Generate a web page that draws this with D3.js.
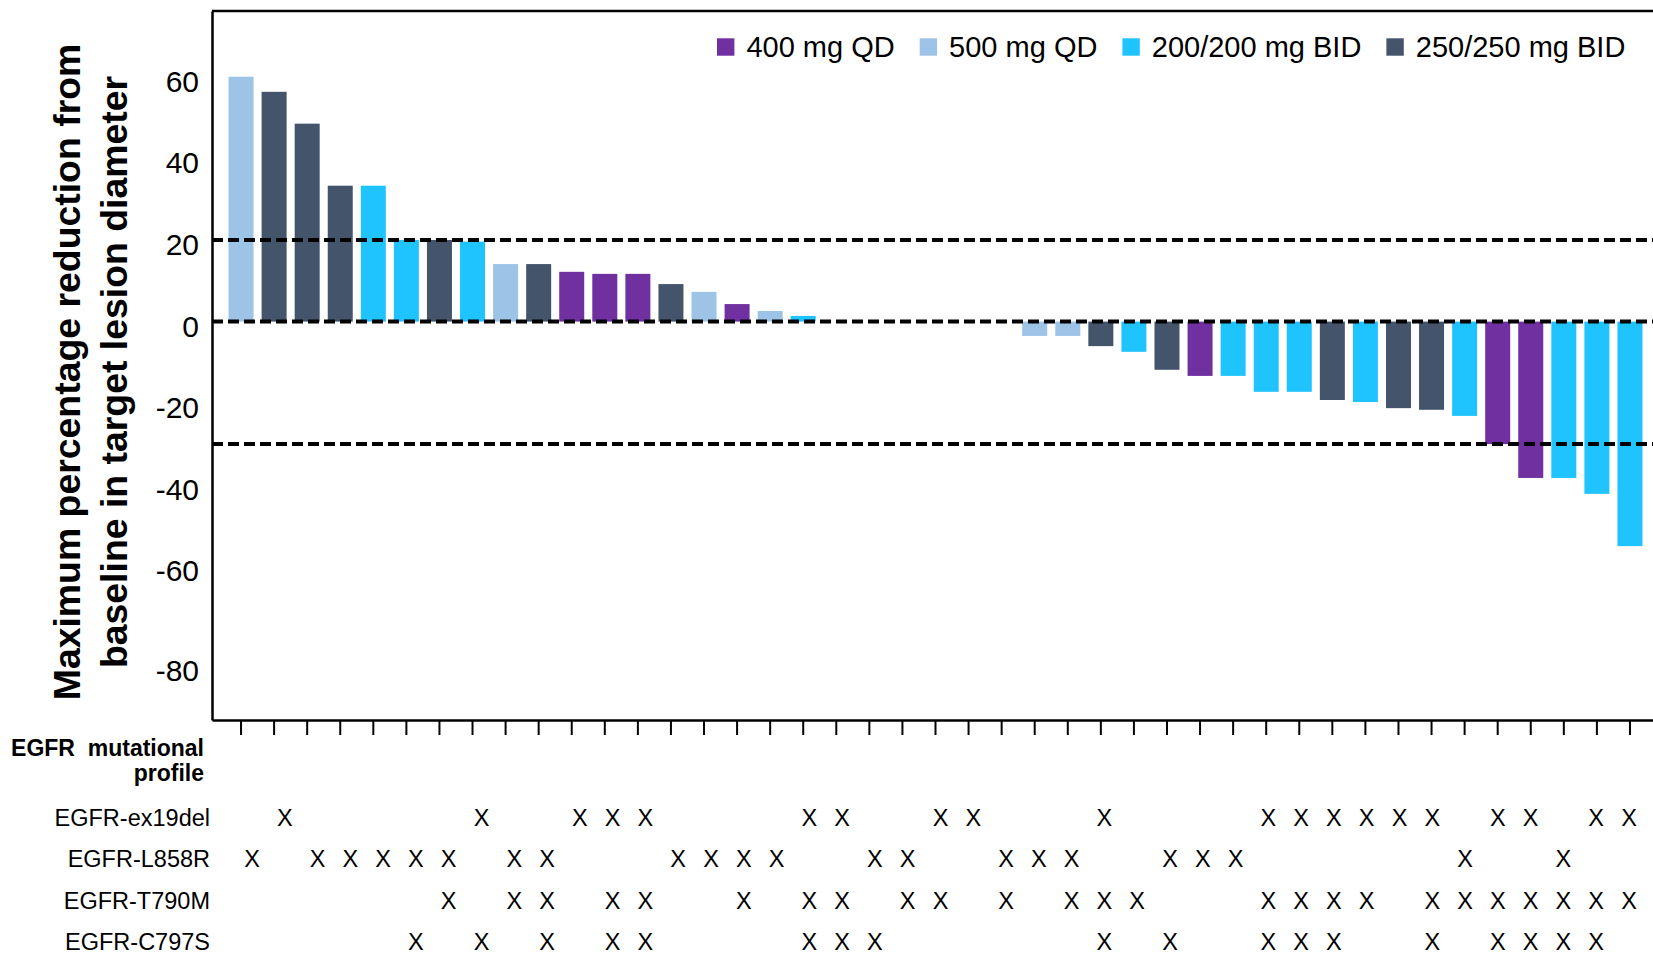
<!DOCTYPE html>
<html lang="en">
<head>
    <meta charset="UTF-8">
    <title>Waterfall</title>
    <style>
        body { margin: 0; background: #fff; }
        svg { display: block; font-family: "Liberation Sans", Arial, sans-serif; }
    </style>
</head>
<body>
    <script src="https://cdn.jsdelivr.net/npm/d3@7/dist/d3.min.js"></script>
    <script>

        // patient slots, left to right
        var patients = d3.range(1, 44);

        var values = [60, 56.3, 48.5, 33.3, 33.3, 20, 20, 19.6, 14.1, 14.1,
            12.2, 11.7, 11.7, 9.2, 7.3, 4.3, 2.6, 1.4, 0, 0,
            0, 0, 0, 0, -3.5, -3.5, -6.0, -7.4, -11.8, -13.3,
            -13.3, -17.2, -17.2, -19.2, -19.7, -21.2, -21.6, -23.1, -30, -38.3,
            -38.3, -42.2, -55.0];

        var doses = ["500 mg QD", "250/250 mg BID", "250/250 mg BID", "250/250 mg BID", "200/200 mg BID",
            "200/200 mg BID", "250/250 mg BID", "200/200 mg BID", "500 mg QD", "250/250 mg BID",
            "400 mg QD", "400 mg QD", "400 mg QD", "250/250 mg BID", "500 mg QD",
            "400 mg QD", "500 mg QD", "200/200 mg BID", null, null,
            null, null, null, null, "500 mg QD",
            "500 mg QD", "250/250 mg BID", "200/200 mg BID", "250/250 mg BID", "400 mg QD",
            "200/200 mg BID", "200/200 mg BID", "200/200 mg BID", "250/250 mg BID", "200/200 mg BID",
            "250/250 mg BID", "250/250 mg BID", "200/200 mg BID", "400 mg QD", "400 mg QD",
            "200/200 mg BID", "200/200 mg BID", "200/200 mg BID"];

        var doseNames = ["400 mg QD", "500 mg QD", "200/200 mg BID", "250/250 mg BID"];
        var doseColors = ["#7030a0", "#9dc3e6", "#1fc4ff", "#44546a"];

        var yTicks = [60, 40, 20, 0, -20, -40, -60, -80];
        var refLines = [20, 0, -30];

        var mutNames = ["EGFR-ex19del", "EGFR-L858R", "EGFR-T790M", "EGFR-C797S"];
        var ex19del = [2, 8, 11, 12, 13, 18, 19, 22, 23, 27, 32, 33, 34, 35, 36, 37, 39, 40, 42, 43];
        var l858r = [1, 3, 4, 5, 6, 7, 9, 10, 14, 15, 16, 17, 20, 21, 24, 25, 26, 29, 30, 31, 38, 41];
        var t790m = [7, 9, 10, 12, 13, 16, 18, 19, 21, 22, 24, 26, 27, 28, 32, 33, 34, 35, 37, 38, 39, 40, 41, 42, 43];
        var c797s = [6, 8, 10, 12, 13, 18, 19, 20, 27, 29, 32, 33, 34, 37, 39, 40, 41, 42];
        var mutPatients = [ex19del, l858r, t790m, c797s];

        var titleLines = ["Maximum percentage reduction from", "baseline in target lesion diameter"];

        var width = 1653,
            height = 954;

        var plotLeft = 212, plotRight = 1659, plotTop = 11, plotBottom = 720;

        var data = patients.map(function(p, i) {
            return { id: p, value: values[i], dose: doses[i] };
        });

        var x = d3.scaleBand()
            .domain(patients)
            .range([plotLeft, plotRight])
            .paddingInner(0.244)
            .paddingOuter(0.5);

        var y = d3.scaleLinear()
            .domain([-97.6, 76.1])
            .range([plotBottom, plotTop]);

        // the X marks sit on a slightly tighter grid than the bars
        var xm = d3.scalePoint()
            .domain(patients)
            .range([252, 1629]);

        var yRow = d3.scalePoint()
            .domain(mutNames)
            .range([826, 950]);

        var color = d3.scaleOrdinal()
            .domain(doseNames)
            .range(doseColors);

        var svg = d3.select("body").append("svg")
            .attr("width", width)
            .attr("height", height);

        // bars
        svg.append("g")
            .selectAll("rect")
            .data(data.filter(function(d) { return d.dose; }))
            .enter().append("rect")
            .attr("x", function(d) { return x(d.id); })
            .attr("width", x.bandwidth())
            .attr("y", function(d) { return y(Math.max(0, d.value)); })
            .attr("height", function(d) { return Math.abs(y(d.value) - y(0)); })
            .attr("fill", function(d) { return color(d.dose); });

        // dashed reference lines
        svg.append("g")
            .selectAll("line")
            .data(refLines)
            .enter().append("line")
            .attr("x1", plotLeft)
            .attr("x2", plotRight)
            .attr("y1", function(d) { return y(d); })
            .attr("y2", function(d) { return y(d); })
            .attr("stroke", "#000")
            .attr("stroke-width", 4)
            .attr("stroke-dasharray", "11,5");

        // frame top
        svg.append("line")
            .attr("x1", plotLeft).attr("x2", plotRight)
            .attr("y1", plotTop).attr("y2", plotTop)
            .attr("stroke", "#000")
            .attr("stroke-width", 2.5);

        // y axis
        var yAxis = svg.append("g")
            .attr("transform", "translate(" + plotLeft + ",0)")
            .call(d3.axisLeft(y)
                .tickValues(yTicks)
                .tickFormat(function(d) { return String(d); })
                .tickSize(0)
                .tickPadding(13))
            .attr("font-family", null)
            .attr("font-size", 30);
        yAxis.select(".domain").attr("stroke-width", 2.5);
        yAxis.selectAll("text").attr("dy", "0.48em").attr("fill", "#000");
        // the bottom label sits lower in the original
        yAxis.selectAll("text").filter(function(d) { return d === -80; }).attr("dy", "1.08em");

        // x axis, ticks only
        var xAxis = svg.append("g")
            .attr("transform", "translate(0," + plotBottom + ")")
            .call(d3.axisBottom(x).tickSize(15).tickSizeOuter(0).tickFormat(""));
        xAxis.select(".domain").attr("stroke-width", 2.5);
        xAxis.selectAll(".tick line").attr("stroke-width", 2);

        // y title
        svg.append("g")
            .selectAll("text")
            .data(titleLines)
            .enter().append("text")
            .attr("transform", function(d, i) { return "translate(" + (80 + i * 46.7) + ",372) rotate(-90)"; })
            .attr("text-anchor", "middle")
            .attr("font-weight", "bold")
            .attr("font-size", 37.4)
            .text(function(d) { return d; });

        // legend
        var legend = svg.append("g");
        var lx = 717;
        doseNames.forEach(function(name) {
            legend.append("rect")
                .attr("x", lx).attr("y", 38.3)
                .attr("width", 17.4).attr("height", 17.4)
                .attr("fill", color(name));
            var t = legend.append("text")
                .attr("x", lx + 29.4).attr("y", 56.7)
                .attr("font-size", 29)
                .text(name);
            lx += 29.4 + t.node().getComputedTextLength() + 25;
        });

        // mutation table
        svg.append("text")
            .attr("x", 204).attr("y", 756)
            .attr("text-anchor", "end")
            .attr("font-weight", "bold")
            .attr("font-size", 23)
            .style("white-space", "pre")
            .text("EGFR  mutational");
        svg.append("text")
            .attr("x", 204).attr("y", 781)
            .attr("text-anchor", "end")
            .attr("font-weight", "bold")
            .attr("font-size", 23)
            .text("profile");

        svg.append("g")
            .selectAll("text")
            .data(mutNames)
            .enter().append("text")
            .attr("x", 210)
            .attr("y", function(d) { return yRow(d); })
            .attr("text-anchor", "end")
            .attr("font-size", 23.5)
            .text(function(d) { return d; });

        mutNames.forEach(function(name, r) {
            svg.append("g")
                .selectAll("text")
                .data(mutPatients[r])
                .enter().append("text")
                .attr("x", function(d) { return xm(d); })
                .attr("y", yRow(name))
                .attr("text-anchor", "middle")
                .attr("font-size", 23.5)
                .text("X");
        });

    </script>
</body>
</html>
